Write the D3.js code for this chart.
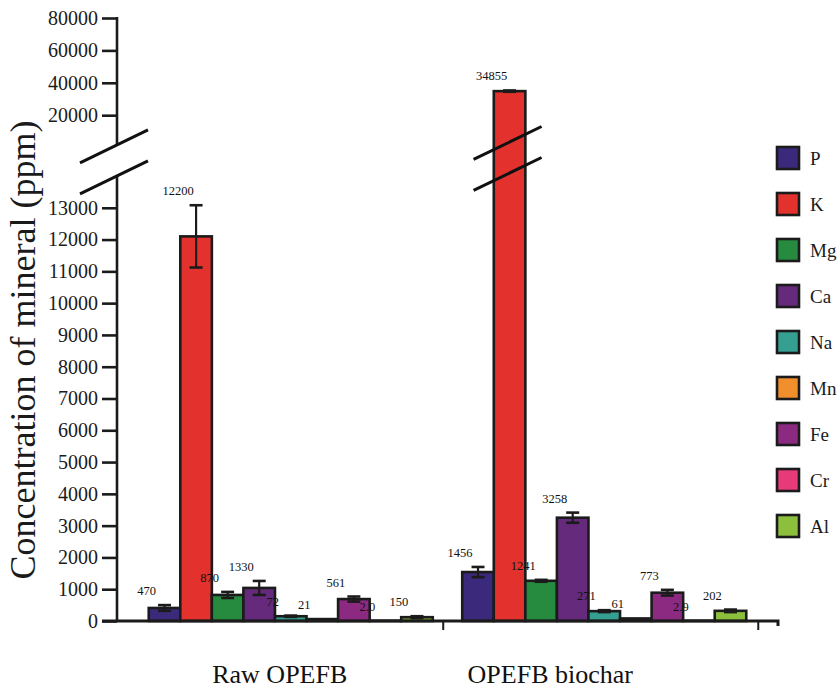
<!DOCTYPE html>
<html>
<head>
<meta charset="utf-8">
<script src="https://cdn.jsdelivr.net/npm/d3@7"></script>
<style>
  html, body { margin: 0; padding: 0; background: #fff; }
  svg { display: block; font-family: "Liberation Serif", "Times New Roman", serif; }
</style>
</head>
<body>
<svg id="chart" width="840" height="688"></svg>
<script>
// ---- data ----
const groups = ["Raw OPEFB", "OPEFB biochar"];
const elements = ["P", "K", "Mg", "Ca", "Na", "Mn", "Fe", "Cr", "Al"];
const colors = ["#3b2a7c", "#e3322d", "#268a3f", "#652a7b", "#35a092", "#f08f2c", "#8c2a82", "#e63a79", "#8cbf3b"];
// bar heights as drawn (ppm)
const rawValues = [410, 12100, 820, 1040, 150, 60, 690, 10, 120];
const biocharValues = [1540, 34855, 1265, 3250, 310, 80, 890, 10, 320];
// error bar half-widths (ppm)
const rawErrors = [90, 980, 95, 220, 20, 0, 80, 0, 30];
const biocharErrors = [160, 400, 30, 160, 30, 0, 90, 0, 40];
// printed value labels
const rawLabels = ["470", "12200", "870", "1330", "72", "21", "561", "2.0", "150"];
const biocharLabels = ["1456", "34855", "1241", "3258", "271", "61", "773", "2.9", "202"];
// axis ticks
const lowerTicks = [0, 1000, 2000, 3000, 4000, 5000, 6000, 7000, 8000, 9000, 10000, 11000, 12000, 13000];
const upperTicks = [20000, 40000, 60000, 80000];
const yTitle = "Concentration of mineral (ppm)";

const svg = d3.select("#chart");
const axisX = 117;
const FONT = '"Liberation Serif", "Times New Roman", serif';

// scales
const x0 = d3.scaleBand().domain(groups).range([134, 761]).paddingInner(0.094).paddingOuter(0.047);
const x1 = d3.scaleBand().domain(elements).range([0, x0.bandwidth()]).padding(0);
const yL = d3.scaleLinear().domain([0, 14000]).range([621, 176]);
const yU = d3.scaleLinear().domain([0, 80000]).range([147.6, 18]);
const color = d3.scaleOrdinal().domain(elements).range(colors);
const breakVal = 14000;
const yv = v => v <= breakVal ? yL(v) : yU(v);

const series = [
  { g: groups[0], vals: rawValues, errs: rawErrors, labels: rawLabels },
  { g: groups[1], vals: biocharValues, errs: biocharErrors, labels: biocharLabels }
];
const data = [];
series.forEach(s => elements.forEach((e, i) => data.push({
  g: s.g, e, v: s.vals[i], err: s.errs[i], label: s.labels[i]
})));

// bars
const bars = svg.append("g");
bars.selectAll("rect").data(data).join("rect")
  .attr("x", d => x0(d.g) + x1(d.e))
  .attr("y", d => yv(d.v))
  .attr("width", x1.bandwidth())
  .attr("height", d => yL(0) - yv(d.v))
  .attr("fill", d => color(d.e))
  .attr("stroke", "#1b1b1b")
  .attr("stroke-width", 2.6);

// error bars
const eb = svg.append("g").attr("stroke", "#1b1b1b").attr("stroke-width", 2.2);
data.filter(d => d.err > 0).forEach(d => {
  const cx = x0(d.g) + x1(d.e) + x1.bandwidth() / 2;
  const t = yv(d.v + d.err), b = yv(d.v - d.err);
  eb.append("line").attr("x1", cx).attr("x2", cx).attr("y1", t).attr("y2", b);
  eb.append("line").attr("x1", cx - 6.5).attr("x2", cx + 6.5).attr("y1", t).attr("y2", t).attr("stroke-width", 2.6);
  eb.append("line").attr("x1", cx - 6.5).attr("x2", cx + 6.5).attr("y1", b).attr("y2", b).attr("stroke-width", 2.6);
});

// value labels
svg.append("g").selectAll("text").data(data).join("text")
  .attr("x", d => x0(d.g) + x1(d.e) + x1.bandwidth() / 2 - 18)
  .attr("y", d => yv(d.v + d.err) - 10)
  .attr("text-anchor", "middle")
  .attr("font-family", FONT)
  .attr("font-size", 12.5)
  .attr("fill", "#111")
  .text(d => d.label);

// lower y axis
const gL = svg.append("g").attr("transform", `translate(${axisX},0)`)
  .call(d3.axisLeft(yL).tickValues(lowerTicks).tickSize(15).tickPadding(4).tickFormat(d3.format("d")));
gL.attr("font-family", FONT);
gL.select(".domain").remove();
gL.selectAll(".tick line").attr("stroke", "#1b1b1b").attr("stroke-width", 2.6);
gL.selectAll(".tick text").attr("font-size", 20).attr("fill", "#1b1b1b");

// upper y axis
const gU = svg.append("g").attr("transform", `translate(${axisX},0)`)
  .call(d3.axisLeft(yU).tickValues(upperTicks).tickSize(15).tickPadding(4).tickFormat(d3.format("d")));
gU.attr("font-family", FONT);
gU.select(".domain").remove();
gU.selectAll(".tick line").attr("stroke", "#1b1b1b").attr("stroke-width", 2.6);
gU.selectAll(".tick text").attr("font-size", 20).attr("fill", "#1b1b1b");

// axis lines
const axisLines = svg.append("g").attr("stroke", "#1b1b1b").attr("stroke-width", 2.6).attr("fill", "none");
axisLines.append("line").attr("x1", axisX).attr("x2", axisX).attr("y1", yU(80000) - 1).attr("y2", 145);
axisLines.append("line").attr("x1", axisX).attr("x2", axisX).attr("y1", yL(breakVal)).attr("y2", yL(0));
// x axis
const xEnd = 778;
axisLines.append("path").attr("d", `M102,${yL(0)}H${xEnd}v5`).attr("stroke-width", 3);
[x0(groups[1]) - 19, x0(groups[1]) + x0.bandwidth() + 12].forEach(tx => {
  axisLines.append("line").attr("x1", tx).attr("x2", tx).attr("y1", yL(0)).attr("y2", yL(0) + 9).attr("stroke-width", 2);
});

// break slashes
const slashes = svg.append("g").attr("stroke", "#111").attr("stroke-width", 3);
function slashPair(cx, yc1, yc2, left, right) {
  const slope = 0.485; // rise per px going right
  [yc1, yc2].forEach(yc => {
    slashes.append("line")
      .attr("x1", cx - left).attr("y1", yc + slope * left)
      .attr("x2", cx + right).attr("y2", yc - slope * right);
  });
}
slashPair(axisX, 145, 176, 37, 31);
const kx = x0(groups[1]) + x1("K") + x1.bandwidth() / 2;
slashPair(kx, 142, 173, 36, 32);

// y title
svg.append("text")
  .attr("transform", `translate(35,${(105 + 595) / 2}) rotate(-90)`)
  .attr("text-anchor", "middle")
  .attr("font-family", FONT)
  .attr("font-size", 36)
  .attr("fill", "#1b1b1b")
  .text(yTitle);

// x group labels
const labelOffsets = [-11, -54];
svg.append("g").selectAll("text").data(groups).join("text")
  .attr("x", (d, i) => x0(d) + x0.bandwidth() / 2 + labelOffsets[i])
  .attr("y", 683)
  .attr("text-anchor", "middle")
  .attr("font-family", FONT)
  .attr("font-size", 26)
  .attr("fill", "#111")
  .text(d => d);

// legend
const lg = svg.append("g").attr("transform", "translate(777,147)");
const li = lg.selectAll("g").data(elements).join("g")
  .attr("transform", (d, i) => `translate(0,${i * 46})`);
li.append("rect").attr("width", 22).attr("height", 22)
  .attr("fill", d => color(d)).attr("stroke", "#1b1b1b").attr("stroke-width", 2.6);
li.append("text").attr("x", 33).attr("y", 11).attr("dy", "0.35em")
  .attr("font-family", FONT)
  .attr("font-size", 19).attr("fill", "#1b1b1b").text(d => d);
</script>
</body>
</html>
